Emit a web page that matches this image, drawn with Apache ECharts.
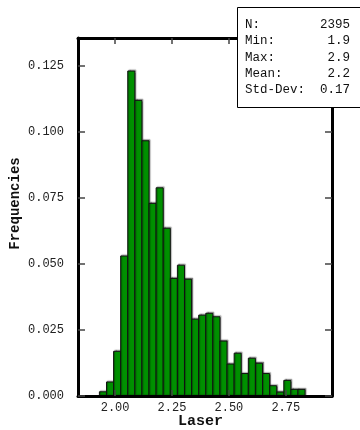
<!DOCTYPE html>
<html>
<head>
<meta charset="utf-8">
<script src="https://cdn.jsdelivr.net/npm/echarts@6/dist/echarts.min.js"></script>
<style>
  html, body { margin: 0; padding: 0; background: #fff; }
  #chart { width: 360px; height: 430px; }
</style>
</head>
<body>
<div id="chart"></div>
<script>
// Histogram of laser measurements (relative frequencies per bin)
const binStart = 1.931;
const binWidth = 0.03116;
const frequencies = [
  0.0016, 0.0053, 0.0169, 0.0530, 0.1230, 0.1119, 0.0966, 0.0729, 0.0788,
  0.0635, 0.0445, 0.0495, 0.0442, 0.0291, 0.0306, 0.0313, 0.0300, 0.0208,
  0.0121, 0.0162, 0.0085, 0.0143, 0.0124, 0.0085, 0.0039, 0.0015, 0.0059,
  0.0025, 0.0025
];
const xTicks = [2.00, 2.25, 2.50, 2.75];
const yTicks = [0, 0.025, 0.05, 0.075, 0.1, 0.125];
const statNames = ['N:', 'Min:', 'Max:', 'Mean:', 'Std-Dev:'];
const statValues = ['2395', '1.9', '2.9', '2.2', '0.17'];

const MONO = '"Liberation Mono", "DejaVu Sans Mono", monospace';
const X_MIN = 1.837, X_MAX = 2.953;
const Y_MIN = 0, Y_MAX = 0.1355;

const bins = frequencies.map((f, i) => [binStart + i * binWidth, binStart + (i + 1) * binWidth, f]);

function xAxisDef(pos, showLabel) {
  return {
    type: 'value', position: pos, min: X_MIN, max: X_MAX, z: 5,
    splitLine: { show: false },
    axisLine: { show: true, onZero: false, lineStyle: { color: '#000', width: 3 } },
    axisTick: { show: true, inside: true, length: 6, customValues: xTicks, lineStyle: { color: '#444', width: 1.5 } },
    axisLabel: {
      show: showLabel, customValues: xTicks, margin: 6,
      fontFamily: MONO, fontSize: 12, color: '#222',
      formatter: v => v.toFixed(2)
    }
  };
}
function yAxisDef(pos, showLabel) {
  return {
    type: 'value', position: pos, min: Y_MIN, max: Y_MAX, z: 5,
    splitLine: { show: false },
    axisLine: { show: true, onZero: false, lineStyle: { color: '#000', width: 3 } },
    axisTick: { show: true, inside: true, length: 7, customValues: yTicks, lineStyle: { color: '#444', width: 1.5 } },
    axisLabel: {
      show: showLabel, customValues: yTicks, margin: 14,
      fontFamily: MONO, fontSize: 12, color: '#222',
      formatter: v => v.toFixed(3)
    }
  };
}

const statTexts = [];
statNames.forEach((name, i) => {
  const y = 25 + i * 16.4;
  statTexts.push({
    type: 'text', left: 245, top: y - 7, z: 101,
    style: { text: name, font: '12.5px ' + MONO, fill: '#111' }
  });
  statTexts.push({
    type: 'text', right: 10, top: y - 7, z: 101,
    style: { text: statValues[i], font: '12.5px ' + MONO, fill: '#111', textAlign: 'right' }
  });
});

const chart = echarts.init(document.getElementById('chart'), null, { renderer: 'canvas' });
chart.setOption({
  animation: false,
  backgroundColor: '#fff',
  grid: { left: 78, top: 38, right: 28, bottom: 34, containLabel: false },
  xAxis: [xAxisDef('bottom', true), xAxisDef('top', false)],
  yAxis: [yAxisDef('left', true), yAxisDef('right', false)],
  series: [{
    type: 'custom',
    z: 2,
    data: bins,
    encode: { x: [0, 1], y: 2 },
    renderItem: function (params, api) {
      const p0 = api.coord([api.value(0), api.value(2)]);
      const p1 = api.coord([api.value(1), 0]);
      return {
        type: 'rect',
        shape: { x: p0[0], y: p0[1], width: p1[0] - p0[0], height: p1[1] - p0[1] },
        style: {
          fill: '#009000', stroke: '#111', lineWidth: 1,
          shadowColor: 'rgba(0,0,0,0.35)', shadowOffsetX: 1, shadowOffsetY: -1, shadowBlur: 1
        }
      };
    }
  }],
  graphic: [
    {
      type: 'text', left: 178, top: 414, z: 50,
      style: { text: 'Laser', font: 'bold 15px ' + MONO, fill: '#111' }
    },
    {
      type: 'text', x: 15, y: 203.5, rotation: Math.PI / 2, z: 50,
      style: { text: 'Frequencies', font: 'bold 14px ' + MONO, fill: '#111', align: 'center', verticalAlign: 'middle' }
    },
    {
      type: 'rect', left: 237, top: 7, z: 100,
      shape: { width: 130, height: 100 },
      style: { fill: '#fff', stroke: '#000', lineWidth: 1 }
    }
  ].concat(statTexts)
});
</script>
</body>
</html>
